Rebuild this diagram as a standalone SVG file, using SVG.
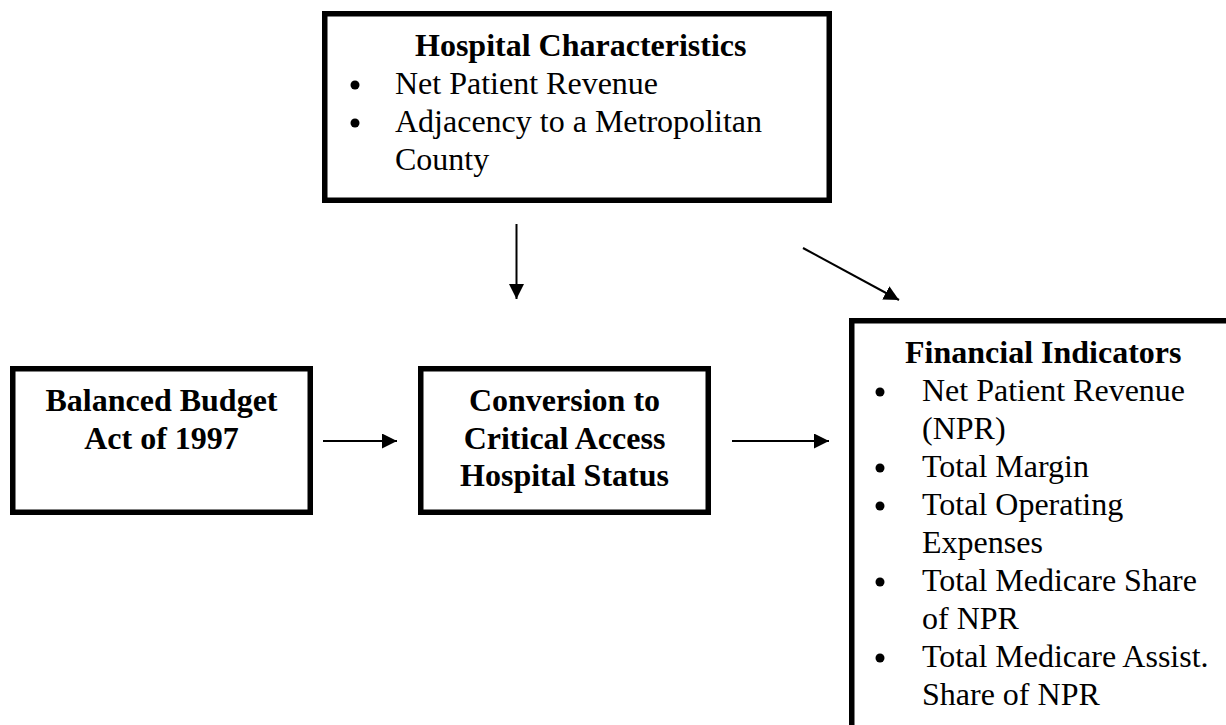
<svg xmlns="http://www.w3.org/2000/svg" width="1226" height="725" viewBox="0 0 1226 725">
  <style>
    .box { fill: #ffffff; stroke: #000000; stroke-width: 5.5; }
    .t { font-family: "Liberation Serif", "Times New Roman", serif; font-size: 32px; fill: #000000; }
    .b { font-weight: bold; }
    .mid { text-anchor: middle; }
    .bul { fill: #000000; }
    .conn { stroke: #000000; stroke-width: 2; fill: none; marker-end: url(#arrow); }
  </style>
  <defs>
    <marker id="arrow" markerUnits="userSpaceOnUse" markerWidth="15" markerHeight="15" refX="15" refY="7.5" orient="auto">
      <path d="M0,0 L15,7.5 L0,15 z" fill="#000000"/>
    </marker>
  </defs>
  <rect width="1226" height="725" fill="#ffffff"/>

  <g id="hospital-characteristics">
    <rect class="box" x="324.75" y="13.75" width="504.5" height="186.5"/>
    <text class="t b" x="415" y="56">Hospital Characteristics</text>
    <circle class="bul" cx="355" cy="85" r="4.5"/>
    <text class="t" x="395" y="94">Net Patient Revenue</text>
    <circle class="bul" cx="355" cy="123" r="4.5"/>
    <text class="t" x="395" y="132">Adjacency to a Metropolitan</text>
    <text class="t" x="395" y="170">County</text>
  </g>

  <g id="balanced-budget-act">
    <rect class="box" x="12.75" y="368.75" width="297.5" height="143.5"/>
    <text class="t b mid" x="161.5" y="411">Balanced Budget</text>
    <text class="t b mid" x="161.5" y="448.5">Act of 1997</text>
  </g>

  <g id="cah-conversion">
    <rect class="box" x="420.75" y="368.75" width="287.5" height="143.5"/>
    <text class="t b mid" x="564.5" y="411">Conversion to</text>
    <text class="t b mid" x="564.5" y="448.5">Critical Access</text>
    <text class="t b mid" x="564.5" y="486">Hospital Status</text>
  </g>

  <g id="financial-indicators">
    <rect class="box" x="851.75" y="320.75" width="500" height="500"/>
    <text class="t b" x="905" y="363">Financial Indicators</text>
    <circle class="bul" cx="880" cy="392" r="4.5"/>
    <text class="t" x="922" y="401">Net Patient Revenue</text>
    <text class="t" x="922" y="439">(NPR)</text>
    <circle class="bul" cx="880" cy="468" r="4.5"/>
    <text class="t" x="922" y="477">Total Margin</text>
    <circle class="bul" cx="880" cy="506" r="4.5"/>
    <text class="t" x="922" y="515">Total Operating</text>
    <text class="t" x="922" y="553">Expenses</text>
    <circle class="bul" cx="880" cy="582" r="4.5"/>
    <text class="t" x="922" y="591">Total Medicare Share</text>
    <text class="t" x="922" y="629">of NPR</text>
    <circle class="bul" cx="880" cy="658" r="4.5"/>
    <text class="t" x="922" y="667">Total Medicare Assist.</text>
    <text class="t" x="922" y="705">Share of NPR</text>
  </g>

  <g id="connectors">
    <line class="conn" x1="516.5" y1="224" x2="516.5" y2="299"/>
    <line class="conn" x1="803" y1="248" x2="899" y2="300"/>
    <line class="conn" x1="323" y1="441" x2="397" y2="441"/>
    <line class="conn" x1="732" y1="441" x2="829" y2="441"/>
  </g>
</svg>
